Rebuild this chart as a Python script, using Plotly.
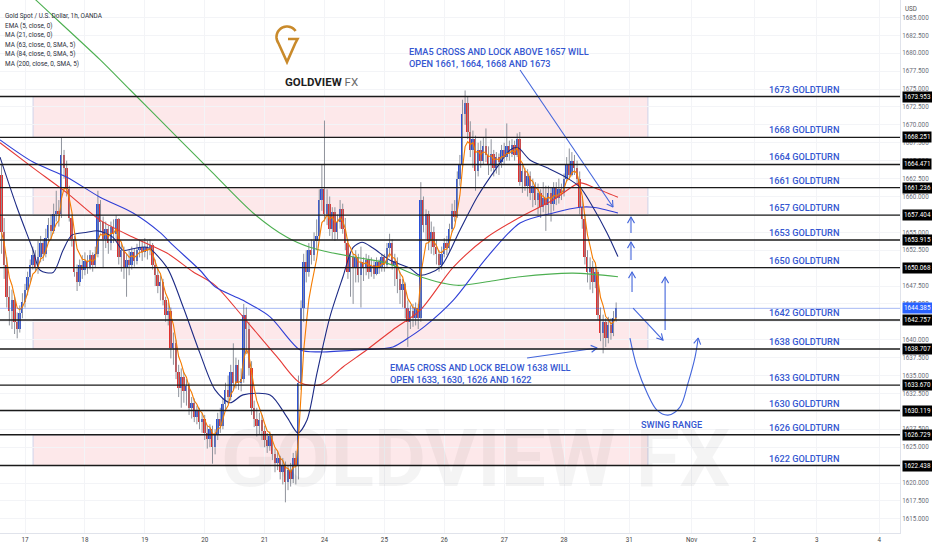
import math
import plotly.graph_objects as go

# ---------------- data ----------------
FIRST_BAR = -9            # hourly bars, 0 = first bar of Mon 17 Oct
first_open = 1663.0
closes = [
    1655.0, 1650.5, 1646.0, 1644.0, 1645.5, 1642.5, 1641.5, 1643.8, 1645.2,
    # 17
    1647.0, 1648.8, 1650.5, 1651.8, 1650.2, 1651.5, 1653.5, 1652.0, 1654.2, 1656.0, 1655.2, 1657.5,
    1658.0, 1657.6, 1665.8, 1664.0, 1661.0, 1657.0, 1654.0, 1649.5, 1648.0, 1650.5, 1649.8,
    # 18
    1651.0, 1650.2, 1651.8, 1650.5, 1652.0, 1659.0, 1656.5, 1654.0, 1655.5, 1653.5, 1655.8, 1654.8,
    1656.8, 1651.5, 1652.5, 1650.0, 1651.2, 1650.5, 1652.2, 1651.0, 1652.5, 1653.0, 1652.2,
    # 19
    1653.0, 1652.5, 1653.2, 1650.5, 1649.0, 1647.5, 1648.0, 1645.5, 1643.5, 1644.0, 1638.8, 1639.5,
    1635.5, 1633.2, 1634.8, 1632.8, 1633.5, 1630.5, 1631.2, 1629.2, 1630.0, 1628.5, 1629.0,
    # 20
    1627.0, 1626.2, 1627.5, 1625.0, 1626.8, 1629.0, 1628.0, 1631.0, 1633.0, 1632.0, 1635.5, 1634.0,
    1636.5, 1634.0, 1634.5, 1643.5, 1641.5, 1636.0, 1630.5, 1629.0, 1628.0, 1628.8, 1627.2,
    # 21
    1626.0, 1625.2, 1626.5, 1624.0, 1622.8, 1623.5, 1621.5, 1622.5, 1620.2, 1621.8, 1620.5, 1623.5,
    1622.5, 1634.0, 1644.5, 1650.8, 1649.5, 1652.5, 1651.8, 1653.8, 1654.5, 1659.5, 1661.0,
    # 24
    1657.5, 1659.0, 1655.5, 1657.8, 1655.0, 1656.5, 1658.2, 1655.5, 1653.5, 1649.5, 1651.5, 1650.2,
    1651.5, 1649.0, 1650.8, 1650.0, 1651.2, 1649.5, 1650.5, 1649.2, 1650.8, 1650.0, 1651.5,
    # 25
    1650.5, 1652.8, 1653.5, 1650.5, 1651.0, 1648.5, 1647.0, 1647.8, 1644.5, 1642.5, 1644.0, 1643.0,
    1644.5, 1643.0, 1659.5, 1656.0, 1657.5, 1653.8, 1655.0, 1653.0, 1652.0, 1650.5, 1652.0,
    # 26
    1653.5, 1652.8, 1655.5, 1658.0, 1657.2, 1662.5, 1664.5, 1671.5, 1673.0, 1669.0, 1666.5, 1668.0,
    1663.5, 1666.5, 1665.0, 1667.0, 1665.8, 1664.5, 1666.0, 1664.0, 1665.5, 1664.8, 1666.5,
    # 27
    1665.5, 1667.0, 1666.0, 1667.2, 1665.8, 1668.0, 1662.0, 1663.5, 1661.5, 1662.8, 1660.5, 1661.5,
    1659.5, 1660.5, 1658.5, 1659.8, 1658.8, 1660.5, 1659.0, 1661.2, 1659.8, 1661.0, 1660.5,
    # 28
    1662.5, 1664.5, 1663.0, 1665.0, 1664.0, 1662.5, 1658.5, 1656.8, 1651.5, 1649.5, 1650.0, 1648.0,
    1649.5, 1643.5, 1641.0, 1642.5, 1640.2, 1642.0, 1641.0, 1643.0, 1644.385,
]
highs = [
    1664.5, 1657.0, 1651.5, 1647.5, 1647.0, 1646.0, 1643.8, 1644.8, 1646.5,
    1647.8, 1649.5, 1651.2, 1653.0, 1652.5, 1653.8, 1654.5, 1654.0, 1655.5, 1657.0, 1657.5, 1659.0,
    1660.8, 1659.5, 1668.2, 1666.5, 1665.0, 1661.5, 1657.5, 1654.5, 1650.5, 1651.2, 1651.8,
    1652.2, 1651.8, 1652.5, 1652.2, 1653.0, 1660.8, 1659.5, 1657.2, 1656.5, 1656.0, 1656.5, 1656.8,
    1657.4, 1657.0, 1653.5, 1653.0, 1652.0, 1652.5, 1653.0, 1652.8, 1653.4, 1654.0, 1653.8,
    1654.2, 1653.8, 1654.0, 1653.5, 1651.2, 1650.0, 1649.0, 1648.5, 1646.0, 1645.2, 1644.5, 1641.0,
    1640.0, 1636.5, 1636.0, 1635.5, 1634.5, 1634.0, 1632.0, 1631.8, 1630.8, 1630.5, 1629.8,
    1629.5, 1628.0, 1628.2, 1628.0, 1627.5, 1629.8, 1630.5, 1631.8, 1634.0, 1635.0, 1636.5, 1639.5,
    1637.5, 1637.2, 1636.0, 1645.0, 1644.5, 1642.5, 1637.0, 1631.5, 1630.5, 1629.8, 1629.5,
    1628.0, 1627.0, 1627.2, 1626.8, 1624.8, 1624.5, 1623.8, 1623.5, 1623.0, 1622.5, 1622.8, 1624.2,
    1624.5, 1635.0, 1645.5, 1652.0, 1652.5, 1653.5, 1654.0, 1655.0, 1656.8, 1661.0, 1664.5,
    1670.6, 1661.0, 1660.0, 1658.5, 1658.5, 1657.5, 1659.5, 1659.0, 1657.0, 1654.0, 1652.2, 1652.0,
    1652.5, 1652.0, 1653.0, 1651.5, 1652.0, 1651.8, 1651.5, 1651.0, 1651.5, 1651.2, 1652.0,
    1652.0, 1653.5, 1654.8, 1654.0, 1652.0, 1651.5, 1649.5, 1648.5, 1648.0, 1645.5, 1644.8, 1645.0,
    1645.2, 1645.0, 1662.0, 1660.0, 1658.2, 1658.0, 1656.5, 1655.8, 1654.0, 1652.5, 1653.0,
    1654.2, 1654.5, 1656.2, 1659.0, 1659.5, 1663.5, 1665.8, 1673.5, 1674.8, 1674.0, 1670.5, 1669.2,
    1668.5, 1667.5, 1667.8, 1668.2, 1669.5, 1667.0, 1668.0, 1666.5, 1666.2, 1666.0, 1667.2,
    1667.5, 1670.2, 1667.8, 1668.0, 1667.8, 1668.8, 1669.0, 1664.5, 1664.0, 1663.8, 1663.5, 1662.5,
    1662.0, 1661.8, 1661.0, 1662.0, 1661.5, 1661.5, 1661.2, 1662.0, 1662.0, 1662.5, 1661.8,
    1663.2, 1665.5, 1666.7, 1666.2, 1665.8, 1665.0, 1663.5, 1660.0, 1657.5, 1652.5, 1651.5, 1651.0,
    1650.2, 1649.8, 1644.5, 1643.5, 1643.0, 1643.2, 1643.0, 1644.0, 1645.2,
]
lows = [
    1652.0, 1648.5, 1644.5, 1642.0, 1641.5, 1640.8, 1640.2, 1641.0, 1643.0,
    1644.5, 1646.2, 1648.0, 1649.8, 1649.5, 1649.2, 1650.8, 1651.0, 1651.5, 1653.5, 1654.0, 1654.8,
    1656.5, 1655.8, 1657.0, 1662.5, 1660.0, 1656.5, 1653.0, 1648.8, 1646.8, 1647.5, 1648.5,
    1649.0, 1649.2, 1649.8, 1649.5, 1650.0, 1651.5, 1655.0, 1650.0, 1652.8, 1652.0, 1652.5, 1653.5,
    1654.0, 1650.5, 1649.5, 1648.5, 1646.0, 1649.0, 1649.8, 1650.2, 1650.5, 1651.5, 1651.0,
    1651.5, 1651.2, 1651.8, 1649.8, 1647.5, 1646.5, 1645.5, 1644.8, 1642.5, 1642.0, 1637.4, 1636.5,
    1634.5, 1632.0, 1630.5, 1631.2, 1630.8, 1629.5, 1629.0, 1628.5, 1628.2, 1627.5, 1627.0,
    1626.0, 1624.8, 1625.0, 1622.7, 1624.0, 1626.0, 1627.0, 1627.5, 1630.2, 1631.0, 1631.5, 1633.0,
    1633.2, 1633.0, 1632.8, 1634.0, 1638.0, 1635.0, 1629.5, 1627.8, 1626.5, 1626.8, 1626.0,
    1625.0, 1624.2, 1624.5, 1623.2, 1621.5, 1621.8, 1620.5, 1619.8, 1617.3, 1619.0, 1619.5, 1620.0,
    1619.8, 1620.5, 1633.0, 1642.5, 1648.0, 1648.8, 1650.5, 1651.0, 1652.5, 1654.0, 1658.0,
    1656.5, 1656.0, 1654.5, 1654.0, 1653.8, 1654.0, 1655.5, 1654.8, 1652.5, 1648.5, 1646.0, 1645.0,
    1648.0, 1648.0, 1644.5, 1648.2, 1649.0, 1648.5, 1648.8, 1648.5, 1649.0, 1649.2, 1649.5,
    1649.5, 1650.0, 1651.5, 1649.8, 1647.5, 1646.5, 1645.0, 1644.5, 1643.0, 1639.0, 1641.5, 1641.8,
    1642.0, 1641.5, 1642.5, 1655.0, 1654.0, 1652.5, 1652.0, 1651.8, 1650.5, 1649.5, 1649.8,
    1651.5, 1651.8, 1652.2, 1655.0, 1656.5, 1657.0, 1661.5, 1664.0, 1670.0, 1668.0, 1665.5, 1664.0,
    1660.8, 1662.8, 1664.0, 1664.5, 1664.8, 1663.0, 1663.5, 1662.8, 1663.2, 1663.0, 1664.0,
    1664.5, 1665.0, 1665.0, 1665.5, 1665.0, 1665.5, 1661.5, 1660.5, 1660.8, 1660.0, 1659.5, 1658.5,
    1658.8, 1657.5, 1657.0, 1657.8, 1655.2, 1657.5, 1656.5, 1658.0, 1658.8, 1659.0, 1659.5,
    1660.0, 1662.0, 1662.5, 1662.8, 1663.0, 1661.5, 1657.5, 1655.5, 1650.5, 1648.0, 1647.0, 1646.5,
    1647.2, 1642.8, 1639.8, 1638.1, 1639.0, 1639.5, 1640.0, 1640.5, 1642.5,
]

# moving averages (bar, price)
ma21_t = [-9.6, -3.1, 3.1, 5.8, 10.8, 14.6, 18.0, 23.8, 28.0, 33.8, 37.6, 41.5, 46.9, 54.5, 60.7,
          67.2, 73.0, 78.7, 83.7, 94.1, 100.6, 104.8, 108.3, 112.1, 117.1, 122.1, 126.0, 129.4,
          133.6, 140.2, 147.8, 151.7, 159.4, 167.0, 173.6, 181.3, 186.3, 189.3, 193.9, 200.5,
          208.1, 213.1, 218.1, 223.5, 227.7]
ma21_v = [1665.5, 1658.5, 1652.5, 1649.7, 1649.4, 1652.5, 1654.6, 1655.0, 1655.2, 1654.3, 1652.5,
          1652.7, 1652.9, 1650.1, 1644.6, 1638.1, 1633.0, 1631.2, 1632.3, 1632.3, 1629.2, 1627.0,
          1628.8, 1635.3, 1643.2, 1648.8, 1652.9, 1653.6, 1652.8, 1651.1, 1650.0, 1649.0, 1650.1,
          1655.3, 1659.9, 1664.1, 1666.5, 1666.8, 1665.1, 1664.0, 1662.6, 1661.3, 1658.5, 1654.9,
          1651.6]
ma63_t = [-9.6, 3.1, 16.1, 28.8, 41.5, 54.5, 64.5, 73.0, 83.7, 96.8, 105.6, 113.3, 122.1, 131.3,
          141.3, 151.7, 164.4, 177.4, 190.1, 202.8, 213.1, 218.1, 227.7]
ma63_v = [1667.5, 1664.0, 1660.5, 1656.7, 1654.3, 1652.1, 1649.5, 1647.6, 1643.2, 1637.6, 1634.0,
          1633.7, 1636.2, 1638.6, 1641.4, 1644.1, 1650.1, 1654.3, 1657.1, 1659.5, 1661.9, 1661.3,
          1659.9]
ma84_t = [-9.6, 3.1, 16.1, 28.8, 41.5, 51.8, 56.8, 67.2, 73.0, 83.7, 94.1, 105.6, 113.3, 128.6,
          141.3, 147.8, 153.6, 164.4, 177.4, 190.1, 202.8, 213.1, 218.1, 227.7]
ma84_v = [1667.9, 1664.8, 1662.7, 1659.9, 1657.7, 1655.0, 1653.2, 1649.7, 1647.4, 1645.5, 1643.2,
          1638.6, 1638.3, 1638.6, 1639.0, 1640.4, 1641.9, 1645.5, 1651.5, 1656.3, 1657.7, 1658.5,
          1658.5, 1657.7]
ma200_t = [-1.9, 6.9, 28.8, 40.3, 58.4, 71.8, 87.6, 100.6, 109.4, 118.3, 128.6, 139.0, 151.7,
           165.9, 177.4, 190.1, 210.4, 227.7]
ma200_v = [1689.5, 1686.5, 1679.1, 1674.9, 1668.3, 1663.4, 1657.7, 1654.3, 1652.9, 1652.1, 1651.4,
           1650.7, 1648.8, 1647.6, 1648.1, 1648.8, 1649.3, 1648.8]

# horizontal levels (GOLDTURN lines) and supply/demand zones
levels = [1673.953, 1668.251, 1664.471, 1661.236, 1657.404, 1653.915, 1650.068,
          1642.757, 1638.707, 1633.670, 1630.119, 1626.729, 1622.438]
level_names = ["1673", "1668", "1664", "1661", "1657", "1653", "1650",
               "1642", "1638", "1633", "1630", "1626", "1622"]
zones = [(1668.251, 1673.953), (1657.404, 1661.236), (1638.707, 1642.757), (1622.438, 1626.729)]
zone_bars = (3.1, 239.2)
last_price = closes[-1]

# x axis: day starts (bar index) and labels
day_ticks = [0, 23, 46, 69, 92, 115, 138, 161, 184, 207, 232, 256, 280, 304, 328]
day_labels = ["17", "18", "19", "20", "21", "24", "25", "26", "27", "28", "31", "Nov", "2", "3", "4"]
price_ticks = [1615 + 2.5 * i for i in range(29)]

# analyst drawings (bar, price)
arrows = [
    [(190.1, 1677.65), (225.8, 1658.53)],
    [(192.8, 1637.45), (219.7, 1638.85)],
    [(232.7, 1654.90), (232.7, 1657.13)],
    [(232.7, 1651.13), (232.7, 1653.64)],
    [(233.1, 1646.66), (233.1, 1649.45)],
    [(233.5, 1644.42), (245.0, 1639.95)],
    [(245.8, 1641.35), (245.8, 1648.75)],
]
swing_curve = [(232.3, 1640.24), (235.0, 1636.19), (238.9, 1632.56), (242.7, 1630.18),
               (246.9, 1629.48), (251.5, 1630.60), (254.6, 1633.95), (257.3, 1637.58),
               (258.5, 1640.24)]

# ---------------- geometry ----------------
W, H = 932, 550
ML, MR, MT, MB = 0, 32, 0, 17
PW, PH = W - ML - MR, H - MT - MB
X_RANGE = [-9.6, 336.0]
Y_RANGE = [1613.02, 1687.43]
sx = PW / (X_RANGE[1] - X_RANGE[0])
sy = PH / (Y_RANGE[1] - Y_RANGE[0])

BLUE_TXT = "#3557d1"
DRAW = "#4365db"
UP = "#2a4fd6"
DOWN = "#e0302e"
FONT_N = "Roboto"
TXT_SIZE = 9.2

n = len(closes)
bars = list(range(FIRST_BAR, FIRST_BAR + n))
opens = [first_open] + closes[:-1]

fig = go.Figure()

# wicks
wx, wy = [], []
for b, o, h, l, c in zip(bars, opens, highs, lows, closes):
    wx += [b, b, None]
    wy += [min(l, o, c), max(h, o, c), None]
fig.add_trace(go.Scatter(x=wx, y=wy, mode="lines", line=dict(color="#8f939c", width=1),
                         hoverinfo="skip"))
# bodies
fig.add_trace(go.Bar(
    x=bars,
    y=[max(abs(c - o), 0.12) for o, c in zip(opens, closes)],
    base=[min(o, c) for o, c in zip(opens, closes)],
    width=0.72,
    marker=dict(color=[UP if c >= o else DOWN for o, c in zip(opens, closes)], line=dict(width=0)),
    hoverinfo="skip"))

# EMA 5 from closes
ema = []
alpha = 2 / (5 + 1)
for c in closes:
    ema.append(c if not ema else ema[-1] + alpha * (c - ema[-1]))

for t, v, col, wdt in [(ma200_t, ma200_v, "#4caf50", 1.1),
                       (ma63_t, ma63_v, "#e53935", 1.1),
                       (ma84_t, ma84_v, "#2f3fd6", 1.1),
                       (ma21_t, ma21_v, "#1c2a85", 1.1)]:
    fig.add_trace(go.Scatter(x=t, y=v, mode="lines", line=dict(color=col, width=wdt, shape="spline",
                             smoothing=0.8), hoverinfo="skip"))
fig.add_trace(go.Scatter(x=bars, y=ema, mode="lines", line=dict(color="#f57c00", width=1.1),
                         hoverinfo="skip"))


def chevron(p_from, p_to, length=7, ang=30):
    dx = (p_to[0] - p_from[0]) * sx
    dy = -(p_to[1] - p_from[1]) * sy
    d = math.hypot(dx, dy)
    ux, uy = dx / d, dy / d
    pts = []
    for s in (1, -1):
        a = math.radians(ang * s)
        rx = ux * math.cos(a) - uy * math.sin(a)
        ry = ux * math.sin(a) + uy * math.cos(a)
        pts.append((p_to[0] - rx * length / sx, p_to[1] + ry * length / sy))
    return [pts[0], p_to, pts[1]]


for a in arrows:
    fig.add_trace(go.Scatter(x=[p[0] for p in a], y=[p[1] for p in a], mode="lines",
                             line=dict(color=DRAW, width=1.1), hoverinfo="skip"))
    ch = chevron(a[0], a[1])
    fig.add_trace(go.Scatter(x=[p[0] for p in ch], y=[p[1] for p in ch], mode="lines",
                             line=dict(color=DRAW, width=1.1), hoverinfo="skip"))
fig.add_trace(go.Scatter(x=[p[0] for p in swing_curve], y=[p[1] for p in swing_curve], mode="lines",
                         line=dict(color=DRAW, width=1.1, shape="spline"), hoverinfo="skip"))
ch = chevron(swing_curve[-2], swing_curve[-1])
fig.add_trace(go.Scatter(x=[p[0] for p in ch], y=[p[1] for p in ch], mode="lines",
                         line=dict(color=DRAW, width=1.1), hoverinfo="skip"))

shapes = []
for lo, hi in zones:
    shapes.append(dict(type="rect", xref="x", yref="y", x0=zone_bars[0], x1=zone_bars[1], y0=lo, y1=hi,
                       fillcolor="rgba(242,80,95,0.13)", line=dict(color="#cfd3ea", width=1),
                       layer="below"))
for lv in levels:
    shapes.append(dict(type="line", xref="paper", yref="y", x0=0, x1=1, y0=lv, y1=lv,
                       line=dict(color="#1a1a1a", width=1.4), layer="above"))
shapes.append(dict(type="line", xref="paper", yref="y", x0=0, x1=1, y0=last_price, y1=last_price,
                   line=dict(color="rgba(60,100,230,0.45)", width=1), layer="above"))


def pp(px, py):
    return px / PW, 1 - py / PH


# logo pin "G"
cx, cy, r = 287, 37, 10.5
pts = []
for i in range(0, 37):
    th = math.radians(35 + i * 5)
    pts.append((cx + r * math.cos(th), cy - r * math.sin(th)))
pts += [(287, 62), (cx + r * math.cos(math.radians(-40)), cy - r * math.sin(math.radians(-40))),
        (297.5, 39), (288, 39)]
path = "M " + " L ".join(f"{pp(*p)[0]:.5f},{pp(*p)[1]:.5f}" for p in pts)
shapes.append(dict(type="path", xref="paper", yref="paper", path=path,
                   line=dict(color="#c98a2b", width=2.6), layer="above"))

ann = []
# level labels and price boxes
for lv, nm in zip(levels, level_names):
    ann.append(dict(x=284.9, y=lv, xref="x", yref="y", text=f"{nm} GOLDTURN", showarrow=False,
                    xanchor="left", yanchor="bottom", yshift=0,
                    font=dict(family=FONT_N, size=TXT_SIZE, color=BLUE_TXT, weight=500)))
    ann.append(dict(x=1, y=lv, xref="paper", yref="y", text=f"{lv:.3f}", showarrow=False,
                    xanchor="left", xshift=2, bgcolor="#000000", borderpad=1,
                    font=dict(family="Roboto", size=6.3, color="#ffffff")))
ann.append(dict(x=1, y=last_price, xref="paper", yref="y", text=f"{last_price:.3f}", showarrow=False,
                xanchor="left", xshift=2, bgcolor="#2962ff", borderpad=1,
                font=dict(family="Roboto", size=6.3, color="#ffffff")))
ann.append(dict(x=1, y=1, xref="paper", yref="paper", text="USD", showarrow=False, xanchor="left",
                yanchor="top", xshift=3, yshift=-3, font=dict(family="Roboto", size=6.3, color="#555")))

ann.append(dict(x=146.7, y=1679.4, xref="x", yref="y", showarrow=False, xanchor="left", align="left",
                text="EMA5 CROSS AND LOCK ABOVE 1657 WILL<br>OPEN 1661, 1664, 1668 AND 1673",
                font=dict(family=FONT_N, size=TXT_SIZE, color=BLUE_TXT, weight=500)))
ann.append(dict(x=139.4, y=1635.28, xref="x", yref="y", showarrow=False, xanchor="left", align="left",
                text="EMA5 CROSS AND LOCK BELOW 1638 WILL<br>OPEN 1633, 1630, 1626 AND 1622",
                font=dict(family=FONT_N, size=TXT_SIZE, color=BLUE_TXT, weight=500)))
ann.append(dict(x=248.1, y=1628.1, xref="x", yref="y", showarrow=False, text="SWING RANGE",
                font=dict(family=FONT_N, size=TXT_SIZE, color=BLUE_TXT, weight=500)))

legend_lines = ["Gold Spot / U.S. Dollar, 1h, OANDA", "EMA (5, close, 0)", "MA (21, close, 0)",
                "MA (63, close, 0, SMA, 5)", "MA (84, close, 0, SMA, 5)", "MA (200, close, 0, SMA, 5)"]
for i, t in enumerate(legend_lines):
    x0, y0 = pp(3, 10 + i * 9.5)
    ann.append(dict(x=x0, y=y0, xref="paper", yref="paper", text=t, showarrow=False, xanchor="left",
                    font=dict(family="Roboto", size=6.4, color="#2a2e39")))

x0, y0 = pp(283, 73)
ann.append(dict(x=x0, y=y0, xref="paper", yref="paper", showarrow=False,
                text="<b>GOLDVIEW</b> <span style='color:#6b6b6b'>FX</span>",
                font=dict(family="Roboto", size=11.5, color="#1e1e1e")))
x0, y0 = pp(475, 508)
ann.append(dict(x=x0, y=y0, xref="paper", yref="paper", showarrow=False, text="<b>GOLDVIEW FX</b>",
                font=dict(family="Roboto", size=80, color="rgba(0,0,0,0.045)")))

fig.update_layout(
    width=W, height=H, margin=dict(l=ML, r=MR, t=MT, b=MB),
    paper_bgcolor="white", plot_bgcolor="white", showlegend=False,
    shapes=shapes, annotations=ann, bargap=0,
    xaxis=dict(range=X_RANGE, tickmode="array", tickvals=day_ticks, ticktext=day_labels,
               tickfont=dict(family="Roboto", size=6.3, color="#444"), showgrid=True,
               gridcolor="#f3f4f7", zeroline=False, showline=True, linecolor="#e0e3eb", ticks=""),
    yaxis=dict(range=Y_RANGE, side="right", tickmode="array", tickvals=price_ticks,
               ticktext=[f"{v:.3f}" for v in price_ticks],
               tickfont=dict(family="Roboto", size=6.3, color="#6a6d78"), showgrid=True,
               gridcolor="#f3f4f7", zeroline=False, showline=True, linecolor="#e0e3eb", ticks=""),
)

fig.write_html("out.html", config={"displayModeBar": False},
               post_script="document.body.style.margin='0px';document.body.style.overflow='hidden';")
